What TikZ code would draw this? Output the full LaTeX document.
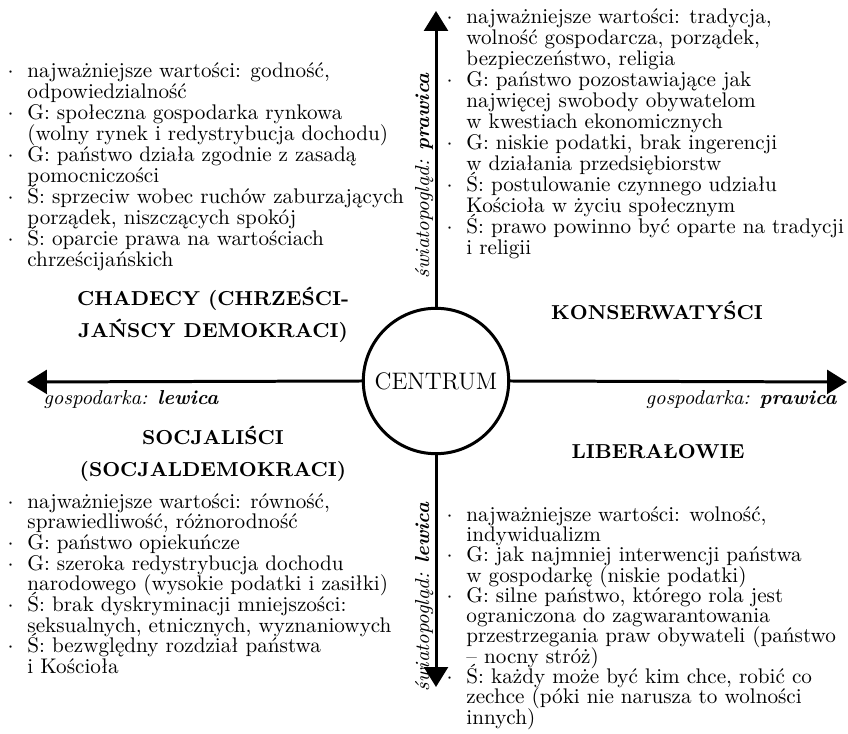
\documentclass[tikz,border=0pt]{standalone}
\usetikzlibrary{arrows.meta,positioning}

\newcommand{\pkt}{\leavevmode\llap{$\cdot$\hspace{6.4pt}}}
\newcommand{\listfont}[1]{\fontsize{9.75}{#1}\selectfont\lineskiplimit=-10pt\relax}
\newcommand{\headfont}{\fontsize{9.3}{14.7}\selectfont\bfseries\lineskiplimit=-10pt\relax}

\begin{document}
\begin{tikzpicture}[
    x=0.4608pt, y=-0.4608pt, % one unit = one pixel of the sketch
    every node/.style={inner sep=0pt},
    listtext/.style={align=left, anchor=north west, font=\listfont{#1}},
    listtext/.default=9.68,
    heading/.style={align=center, font=\headfont},
    axislabel/.style={font=\fontsize{9.3}{11}\selectfont\itshape},
    centre/.style={
      circle, draw, line width=1.38pt,
      minimum size=67pt, font=\fontsize{11}{13}\selectfont
    },
    axis/.style={line width=1.38pt, -{Triangle[length=9.2pt, width=11pt]}},
  ]
  \useasboundingbox (0,0) rectangle (848,734);

  % --- Centre and axes ---
  \node[centre] (centrum) at (436,381) {CENTRUM};

  \coordinate (topend) at (436,11);
  \coordinate (bottomend) at (436,687);
  \coordinate (leftend) at (27,382);
  \coordinate (rightend) at (847,382);

  \draw[axis] (centrum.north) -- (topend);
  \draw[axis] (centrum.south) -- (bottomend);
  \draw[axis] (centrum.west) -- (leftend);
  \draw[axis] (centrum.east) -- (rightend);

  % --- Axis labels ---
  \node[axislabel, anchor=base west] (gosplewa) at (43,405)
    {gospodarka: \textbf{lewica}};
  \node[axislabel, anchor=base east] (gospprawa) at (837,405)
    {gospodarka: \textbf{prawica}};
  \node[axislabel, rotate=90, anchor=base] (swiatprawa) at (429,176)
    {światopogląd: \textbf{prawica}};
  \node[axislabel, rotate=90, anchor=base] (swiatlewa) at (429,597)
    {światopogląd: \textbf{lewica}};

  % --- Headings ---
  \node[heading, anchor=north] (chadecy) at (213,287)
    {CHADECY (CHRZEŚCI-\\JAŃSCY DEMOKRACI)};
  \node[heading, anchor=base] (konserw) at (657,320) {KONSERWATYŚCI};
  \node[heading, anchor=north] (socjal) at (213,426)
    {SOCJALIŚCI\\(SOCJALDEMOKRACI)};
  \node[heading, anchor=base] (liberal) at (658,459) {LIBERAŁOWIE};

  % --- Lists ---
  \node[listtext] (chadlist) at (27,62)
    {\pkt najważniejsze wartości: godność,\\
     odpowiedzialność\\
     \pkt G: społeczna gospodarka rynkowa\\
     (wolny rynek i redystrybucja dochodu)\\
     \pkt G: państwo działa zgodnie z zasadą\\
     pomocniczości\\
     \pkt Ś: sprzeciw wobec ruchów zaburzających\\
     porządek, niszczących spokój\\
     \pkt Ś: oparcie prawa na wartościach\\
     chrześcijańskich};

  \node[listtext] (konslist) at (466,8)
    {\pkt najważniejsze wartości: tradycja,\\
     wolność gospodarcza, porządek,\\
     bezpieczeństwo, religia\\
     \pkt G: państwo pozostawiające jak\\
     najwięcej swobody obywatelom\\
     w kwestiach ekonomicznych\\
     \pkt G: niskie podatki, brak ingerencji\\
     w działania przedsiębiorstw\\
     \pkt Ś: postulowanie czynnego udziału\\
     Kościoła w życiu społecznym\\
     \pkt Ś: prawo powinno być oparte na tradycji\\
     i religii};

  \node[listtext=9.53] (socjlist) at (27,493)
    {\pkt najważniejsze wartości: równość,\\
     sprawiedliwość, różnorodność\\
     \pkt G: państwo opiekuńcze\\
     \pkt G: szeroka redystrybucja dochodu\\
     narodowego (wysokie podatki i zasiłki)\\
     \pkt Ś: brak dyskryminacji mniejszości:\\
     seksualnych, etnicznych, wyznaniowych\\
     \pkt Ś: bezwględny rozdział państwa\\
     i Kościoła};

  \node[listtext=9.35] (liblist) at (466,506)
    {\pkt najważniejsze wartości: wolność,\\
     indywidualizm\\
     \pkt G: jak najmniej interwencji państwa\\
     w gospodarkę (niskie podatki)\\
     \pkt G: silne państwo, którego rola jest\\
     ograniczona do zagwarantowania\\
     przestrzegania praw obywateli (państwo\\
     -- nocny stróż)\\
     \pkt Ś: każdy może być kim chce, robić co\\
     zechce (póki nie narusza to wolności\\
     innych)};
\end{tikzpicture}
\end{document}
